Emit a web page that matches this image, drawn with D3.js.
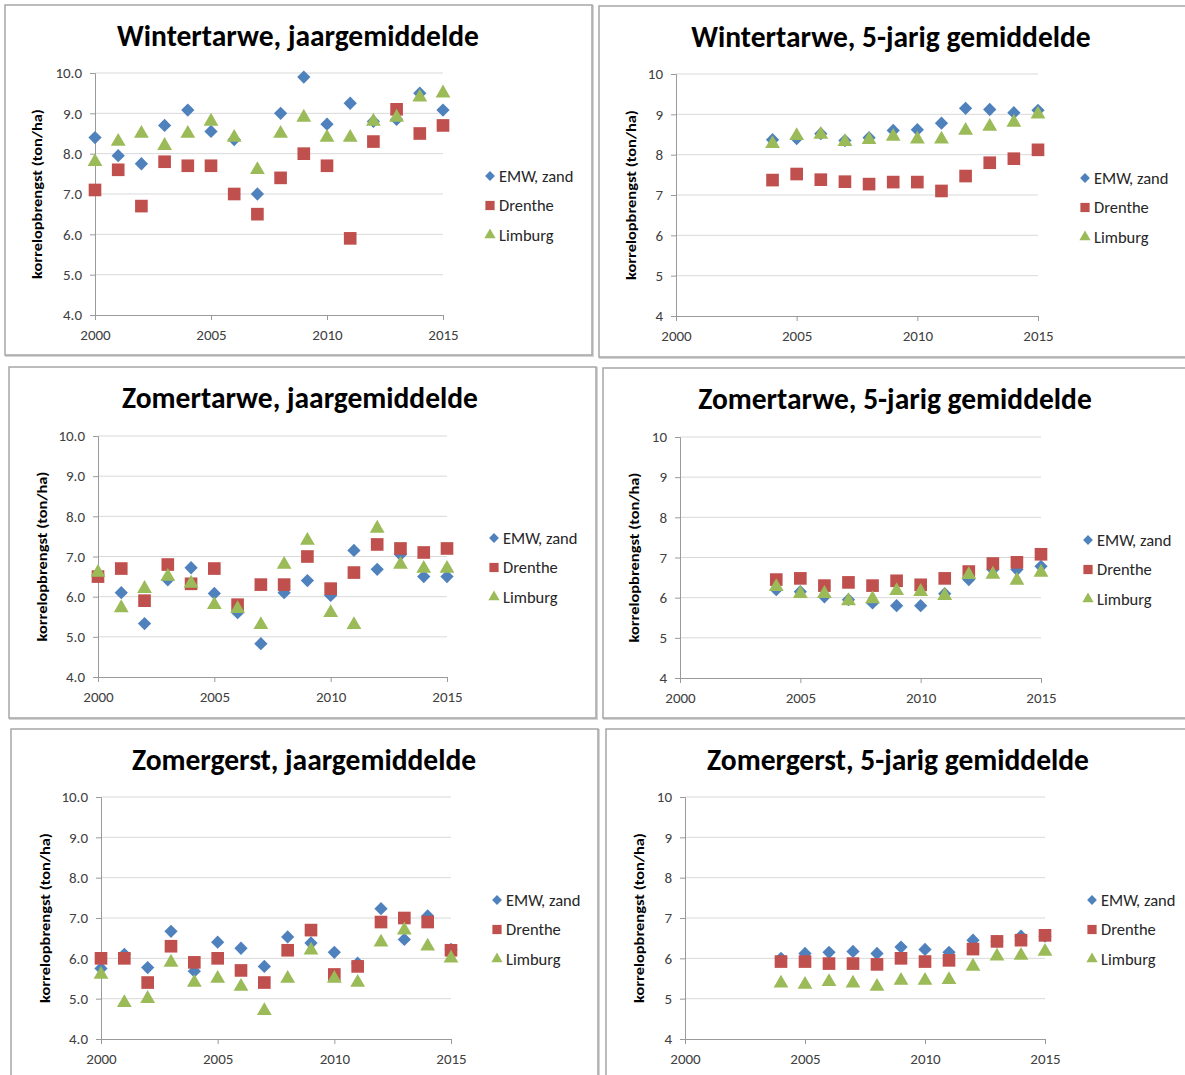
<!DOCTYPE html>
<html>
<head>
<meta charset="utf-8">
<script src="https://cdn.jsdelivr.net/npm/d3@7"></script>
<style>
  body { margin: 0; background: #fff; }
  svg { display: block; }
  text { font-family: Carlito, Calibri, Lato, "Open Sans", sans-serif; }
</style>
</head>
<body>
<svg id="chart" width="1185" height="1075"></svg>
<script>
// Years
var yearsAnnual = d3.range(2000, 2016);
var years5yr = d3.range(2004, 2016);

// Wintertarwe, jaargemiddelde
var wtAnnualEMW = [8.4, 7.95, 7.75, 8.7, 9.08, 8.55, 8.35, 7.0, 9.0, 9.9, 8.73, 9.25, 8.8, 8.85, 9.5, 9.08];
var wtAnnualDrenthe = [7.1, 7.6, 6.7, 7.8, 7.7, 7.7, 7.0, 6.5, 7.4, 8.0, 7.7, 5.9, 8.3, 9.1, 8.5, 8.7];
var wtAnnualLimburg = [7.8, 8.3, 8.5, 8.2, 8.5, 8.8, 8.4, 7.6, 8.5, 8.9, 8.4, 8.4, 8.8, 8.9, 9.4, 9.5];

// Wintertarwe, 5-jarig gemiddelde
var wt5EMW = [8.37, 8.4, 8.52, 8.35, 8.42, 8.6, 8.62, 8.78, 9.15, 9.12, 9.04, 9.1];
var wt5Drenthe = [7.37, 7.52, 7.38, 7.33, 7.27, 7.32, 7.32, 7.1, 7.47, 7.8, 7.9, 8.12];
var wt5Limburg = [8.27, 8.47, 8.5, 8.32, 8.37, 8.45, 8.38, 8.38, 8.6, 8.7, 8.8, 9.0];

// Zomertarwe, jaargemiddelde
var ztAnnualEMW = [6.55, 6.1, 5.33, 6.42, 6.72, 6.08, 5.6, 4.83, 6.1, 6.4, 6.03, 7.15, 6.68, 7.05, 6.5, 6.5];
var ztAnnualDrenthe = [6.5, 6.7, 5.9, 6.8, 6.32, 6.7, 5.8, 6.3, 6.3, 7.0, 6.2, 6.6, 7.3, 7.2, 7.1, 7.2];
var ztAnnualLimburg = [6.6, 5.72, 6.2, 6.5, 6.33, 5.8, 5.7, 5.3, 6.8, 7.4, 5.6, 5.3, 7.7, 6.8, 6.7, 6.7];

// Zomertarwe, 5-jarig gemiddelde
var zt5EMW = [6.2, 6.15, 6.02, 5.95, 5.87, 5.8, 5.8, 6.1, 6.45, 6.7, 6.7, 6.78];
var zt5Drenthe = [6.45, 6.48, 6.3, 6.38, 6.3, 6.42, 6.32, 6.48, 6.65, 6.85, 6.88, 7.08];
var zt5Limburg = [6.27, 6.1, 6.1, 5.92, 5.97, 6.17, 6.15, 6.05, 6.57, 6.58, 6.43, 6.63];

// Zomergerst, jaargemiddelde
var zgAnnualEMW = [5.75, 6.1, 5.77, 6.67, 5.68, 6.4, 6.25, 5.8, 6.53, 6.38, 6.15, 5.88, 7.23, 6.47, 7.05, 6.22];
var zgAnnualDrenthe = [6.0, 6.0, 5.4, 6.3, 5.9, 6.0, 5.7, 5.4, 6.2, 6.7, 5.6, 5.8, 6.9, 7.0, 6.9, 6.2];
var zgAnnualLimburg = [5.6, 4.9, 5.0, 5.9, 5.4, 5.5, 5.3, 4.7, 5.5, 6.2, 5.5, 5.4, 6.4, 6.7, 6.3, 6.0];

// Zomergerst, 5-jarig gemiddelde
var zg5EMW = [6.0, 6.12, 6.15, 6.17, 6.12, 6.28, 6.22, 6.15, 6.45, 6.42, 6.55, 6.55];
var zg5Drenthe = [5.92, 5.92, 5.87, 5.87, 5.85, 6.0, 5.92, 5.95, 6.23, 6.42, 6.45, 6.57];
var zg5Limburg = [5.38, 5.35, 5.42, 5.38, 5.3, 5.45, 5.45, 5.47, 5.8, 6.05, 6.07, 6.17];

// Axes
var seriesNames = ["EMW, zand", "Drenthe", "Limburg"];
var xTicks = [2000, 2005, 2010, 2015];
var yTicks = [4, 5, 6, 7, 8, 9, 10];
var yAxisTitle = "korrelopbrengst (ton/ha)";

var colors = ["#4f81bd", "#c0504d", "#9bbb59"];

var panels = [
	{ title: "Wintertarwe, jaargemiddelde", years: yearsAnnual, series: [wtAnnualEMW, wtAnnualDrenthe, wtAnnualLimburg], fmt: ".1f",
		box: [5, 5, 587, 350], plot: [95, 443, 73, 315], titleX: 298, titleY: 46, yTitleX: 37, legX: 490, legY: 176 },
	{ title: "Wintertarwe, 5-jarig gemiddelde", years: years5yr, series: [wt5EMW, wt5Drenthe, wt5Limburg], fmt: "d",
		box: [599, 6, 590, 351], plot: [676, 1038, 74, 316], titleX: 891, titleY: 47, yTitleX: 631, legX: 1085, legY: 178 },
	{ title: "Zomertarwe, jaargemiddelde", years: yearsAnnual, series: [ztAnnualEMW, ztAnnualDrenthe, ztAnnualLimburg], fmt: ".1f",
		box: [9, 367, 587, 351], plot: [98, 447, 436, 677], titleX: 300, titleY: 408, yTitleX: 42, legX: 494, legY: 538 },
	{ title: "Zomertarwe, 5-jarig gemiddelde", years: years5yr, series: [zt5EMW, zt5Drenthe, zt5Limburg], fmt: "d",
		box: [603, 368, 590, 350], plot: [680, 1041, 437, 678], titleX: 895, titleY: 409, yTitleX: 634, legX: 1088, legY: 540 },
	{ title: "Zomergerst, jaargemiddelde", years: yearsAnnual, series: [zgAnnualEMW, zgAnnualDrenthe, zgAnnualLimburg], fmt: ".1f",
		box: [11, 729, 587, 360], plot: [101, 451, 797, 1039], titleX: 304, titleY: 770, yTitleX: 45, legX: 497, legY: 900 },
	{ title: "Zomergerst, 5-jarig gemiddelde", years: years5yr, series: [zg5EMW, zg5Drenthe, zg5Limburg], fmt: "d",
		box: [606, 729, 590, 360], plot: [685, 1045, 797, 1039], titleX: 898, titleY: 770, yTitleX: 639, legX: 1092, legY: 900 }
];

// Excel-style markers: diamond (rotated square), square, triangle.
function marker(si, big) {
	if (si === 0) return { d: d3.symbol().type(d3.symbolSquare).size(big ? 88 : 48)(), rot: 45 };
	if (si === 1) return { d: d3.symbol().type(d3.symbolSquare).size(big ? 160 : 85)(), rot: 0 };
	return { d: d3.symbol().type(d3.symbolTriangle).size(big ? 95 : 55)(), rot: 0 };
}

var svg = d3.select("#chart");

panels.forEach(function (p) {
	var g = svg.append("g");

	// Panel frame
	g.append("rect")
		.attr("x", p.box[0] + 1).attr("y", p.box[1] + 1)
		.attr("width", p.box[2]).attr("height", p.box[3])
		.attr("fill", "none").attr("stroke", "#d4d4d4").attr("stroke-width", 2);
	g.append("rect")
		.attr("x", p.box[0]).attr("y", p.box[1])
		.attr("width", p.box[2]).attr("height", p.box[3])
		.attr("fill", "#fff").attr("stroke", "#a6a6a6").attr("stroke-width", 1.5);

	var x = d3.scaleLinear().domain([2000, 2015]).range([p.plot[0], p.plot[1]]);
	var y = d3.scaleLinear().domain([4, 10]).range([p.plot[3], p.plot[2]]);

	// Gridlines
	g.append("g").selectAll("line")
		.data(yTicks.slice(1))
		.join("line")
		.attr("x1", p.plot[0]).attr("x2", p.plot[1])
		.attr("y1", function (d) { return y(d); })
		.attr("y2", function (d) { return y(d); })
		.attr("stroke", "#d9d9d9").attr("stroke-width", 1);

	// Y axis
	var yAxis = g.append("g")
		.attr("transform", "translate(" + p.plot[0] + ",0)")
		.call(d3.axisLeft(y).tickValues(yTicks).tickFormat(d3.format(p.fmt)).tickSizeOuter(0).tickSize(5).tickPadding(8));
	// X axis
	var xAxis = g.append("g")
		.attr("transform", "translate(0," + p.plot[3] + ")")
		.call(d3.axisBottom(x).tickValues(xTicks).tickFormat(d3.format("d")).tickSizeOuter(0).tickSize(5).tickPadding(9));

	[yAxis, xAxis].forEach(function (a) {
		a.select(".domain").attr("stroke", "#9a9a9a");
		a.selectAll(".tick line").attr("stroke", "#9a9a9a");
		a.selectAll(".tick text")
			.attr("fill", "#404040")
			.style("font-size", "15px")
			.style("font-family", "Carlito, Calibri, Lato, sans-serif");
	});

	// Title
	g.append("text")
		.attr("x", p.titleX).attr("y", p.titleY)
		.attr("text-anchor", "middle")
		.attr("font-size", "29.5px").attr("font-weight", "bold")
		.attr("fill", "#000")
		.text(p.title);

	// Y axis title
	g.append("text")
		.attr("transform", "translate(" + p.yTitleX + "," + ((p.plot[2] + p.plot[3]) / 2) + ") rotate(-90)")
		.attr("text-anchor", "middle")
		.attr("dy", "0.35em")
		.attr("font-size", "14px").attr("font-weight", "bold")
		.attr("textLength", 170).attr("lengthAdjust", "spacingAndGlyphs")
		.attr("fill", "#000")
		.text(yAxisTitle);

	// Markers
	p.series.forEach(function (vals, si) {
		var m = marker(si, true);
		g.append("g").selectAll("path")
			.data(vals)
			.join("path")
			.attr("transform", function (d, i) { return "translate(" + x(p.years[i]) + "," + y(d) + ") rotate(" + m.rot + ")"; })
			.attr("d", m.d)
			.attr("fill", colors[si]);
	});

	// Legend
	var leg = g.append("g").attr("transform", "translate(" + p.legX + "," + p.legY + ")");
	seriesNames.forEach(function (name, si) {
		var m = marker(si, false);
		var row = leg.append("g").attr("transform", "translate(0," + si * 29.5 + ")");
		row.append("path")
			.attr("transform", "rotate(" + m.rot + ")")
			.attr("d", m.d)
			.attr("fill", colors[si]);
		row.append("text")
			.attr("x", 9).attr("dy", "0.35em")
			.attr("font-size", "16.5px")
			.attr("fill", "#262626")
			.text(name);
	});
});
</script>
</body>
</html>
